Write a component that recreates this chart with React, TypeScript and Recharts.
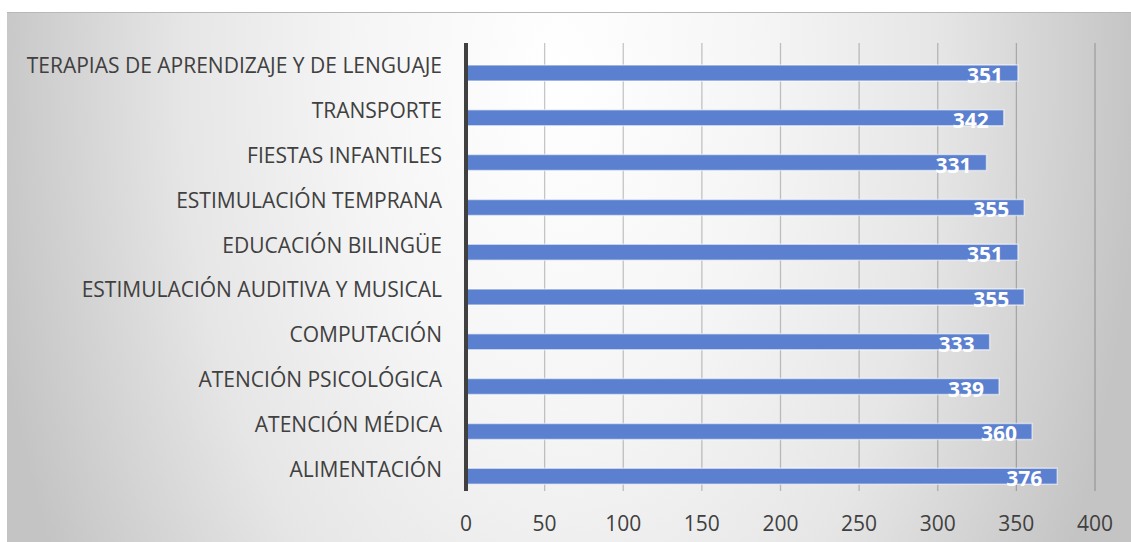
import { BarChart, Bar, XAxis, YAxis, CartesianGrid, LabelList } from "recharts";

const categories = [
  "TERAPIAS DE APRENDIZAJE Y DE LENGUAJE",
  "TRANSPORTE",
  "FIESTAS INFANTILES",
  "ESTIMULACIÓN TEMPRANA",
  "EDUCACIÓN BILINGÜE",
  "ESTIMULACIÓN AUDITIVA Y MUSICAL",
  "COMPUTACIÓN",
  "ATENCIÓN PSICOLÓGICA",
  "ATENCIÓN MÉDICA",
  "ALIMENTACIÓN",
];
const values = [351, 342, 331, 355, 351, 355, 333, 339, 360, 376];
const xTicks = [0, 50, 100, 150, 200, 250, 300, 350, 400];

const data = categories.map((name, i) => ({ name, value: values[i] }));

const FONT = "'Open Sans', sans-serif";

const ValueLabel = (props: any) => {
  const { x, y, width, height, value } = props;
  return (
    <text
      x={x + width - 15}
      y={y + height / 2 + 2}
      textAnchor="end"
      dominantBaseline="central"
      fill="#ffffff"
      fontWeight={700}
      fontSize={21}
      fontFamily={FONT}
    >
      {value}
    </text>
  );
};

const CategoryTick = (props: any) => {
  const { x, y, payload } = props;
  return (
    <text
      x={x}
      y={y - 8}
      textAnchor="end"
      dominantBaseline="central"
      fill="#404040"
      fontSize={21}
      fontFamily={FONT}
    >
      {payload.value}
    </text>
  );
};

export default function App() {
  return (
    <div style={{ position: "absolute", left: 0, top: 0, width: 1131, height: 542, background: "#fff" }}>
      <div
        style={{
          position: "absolute",
          left: 7,
          top: 12,
          width: 1124,
          height: 530,
          borderTop: "1px solid #b8b8b8",
          background:
            "radial-gradient(ellipse 580px 1000px at 553px 60px, #ffffff 0%, #f5f5f5 35%, #e6e6e6 65%, #c4c4c4 100%)",
        }}
      >
        <BarChart
          width={1124}
          height={530}
          data={data}
          layout="vertical"
          margin={{ top: 30, right: 36, bottom: 0, left: 0 }}
          barCategoryGap={0}
        >
          <CartesianGrid horizontal={false} stroke="rgba(0,0,0,0.22)" strokeWidth={1.3} />
          <XAxis
            type="number"
            domain={[0, 400]}
            ticks={xTicks}
            height={52}
            axisLine={false}
            tickLine={false}
            tickSize={0}
            tickMargin={25}
            tick={{ fontSize: 21, fill: "#404040", fontFamily: FONT }}
          />
          <YAxis
            type="category"
            dataKey="name"
            width={459}
            padding={{ top: 8, bottom: -8 }}
            axisLine={{ stroke: "#404040", strokeWidth: 4 }}
            tickLine={false}
            tickSize={0}
            tickMargin={24}
            interval={0}
            tick={CategoryTick}
          />
          <Bar
            dataKey="value"
            fill="#5b80cf"
            stroke="rgba(255,255,255,0.55)"
            strokeWidth={1.5}
            barSize={16}
            isAnimationActive={false}
          >
            <LabelList dataKey="value" content={ValueLabel} />
          </Bar>
        </BarChart>
      </div>
    </div>
  );
}
